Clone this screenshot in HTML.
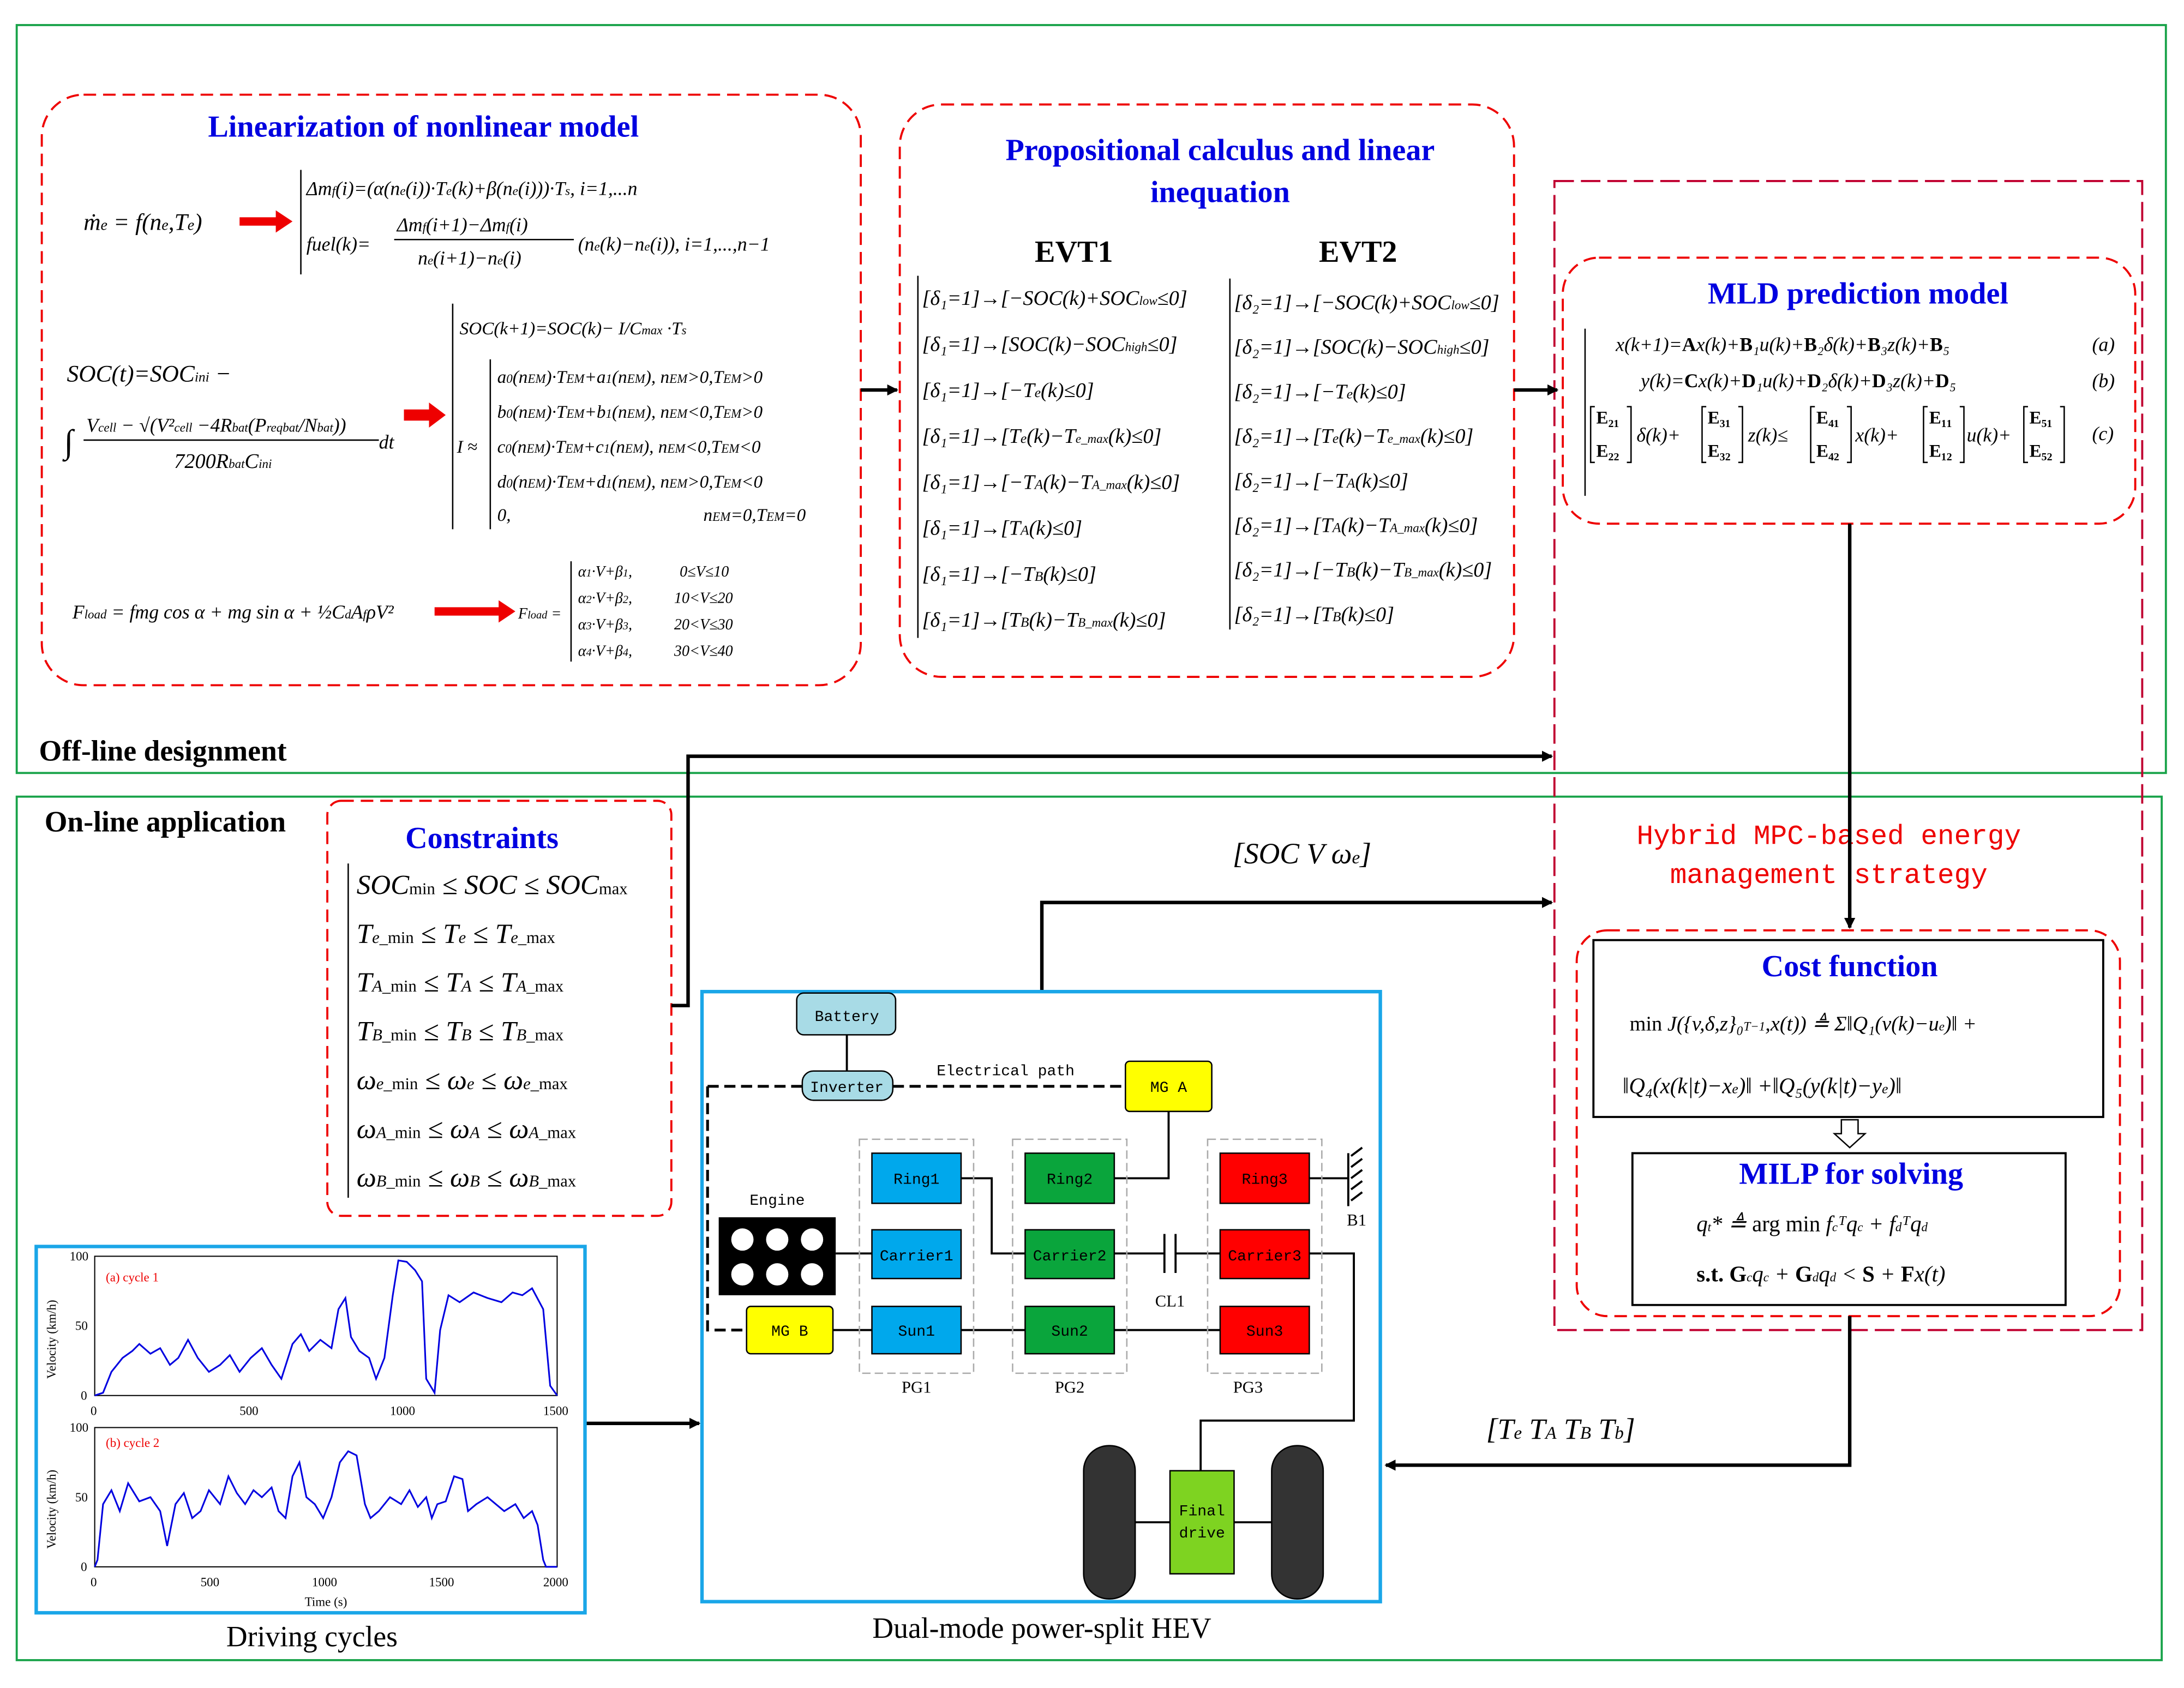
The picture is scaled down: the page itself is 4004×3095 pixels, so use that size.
<!DOCTYPE html>
<html><head><meta charset="utf-8"><style>
html,body{margin:0;padding:0;background:#fff;}
svg{display:block;}
.t{font-family:"Liberation Serif",serif;}
.f{font-family:"Liberation Serif",serif;font-style:italic;}
.b{font-family:"Liberation Serif",serif;font-weight:bold;fill:#0000e0;font-size:22px;}
.m{font-family:"Liberation Mono",monospace;}
</style></head><body>
<svg width="4004" height="3095" viewBox="0 0 1568 1212" preserveAspectRatio="none" xmlns="http://www.w3.org/2000/svg" font-size="13">
<defs>
<marker id="ah" markerWidth="8" markerHeight="8" refX="7" refY="4" orient="auto" markerUnits="userSpaceOnUse"><path d="M0,0 L8,4 L0,8z" fill="#000"/></marker>
</defs>
<rect width="1568" height="1212" fill="#fff"/>
<rect x="12" y="18" width="1543" height="537" fill="none" stroke="#19a34a" stroke-width="1.5"/>
<rect x="12" y="572" width="1540" height="620" fill="none" stroke="#19a34a" stroke-width="1.5"/>
<text x="28" y="546" class="t" font-weight="bold" font-size="21">Off-line designment</text>
<text x="32" y="597" class="t" font-weight="bold" font-size="21">On-line application</text>

<!-- box 1 -->
<rect x="30" y="68" width="588" height="424" rx="30" fill="none" stroke="#e00" stroke-width="1.5" stroke-dasharray="9,5"/>
<text x="304" y="98" class="b" text-anchor="middle">Linearization of nonlinear model</text>
<text x="60" y="165" class="f" font-size="17">ṁ<tspan font-size="11">e</tspan> = f(n<tspan font-size="11">e</tspan>,T<tspan font-size="11">e</tspan>)</text>
<path d="M172,156 h26 v-5 l12,8 l-12,8 v-5 h-26z" fill="#e00"/>
<text x="220" y="140" class="f" font-size="14">Δm<tspan font-size="9">f</tspan>(i)=(α(n<tspan font-size="9">e</tspan>(i))·T<tspan font-size="9">e</tspan>(k)+β(n<tspan font-size="9">e</tspan>(i)))·T<tspan font-size="9">s</tspan>,  i=1,...n</text>
<text x="220" y="180" class="f" font-size="14">fuel(k)=</text>
<text x="285" y="166" class="f" font-size="14">Δm<tspan font-size="9">f</tspan>(i+1)−Δm<tspan font-size="9">f</tspan>(i)</text>
<line x1="283" y1="172" x2="412" y2="172" stroke="#000"/>
<text x="300" y="190" class="f" font-size="14">n<tspan font-size="9">e</tspan>(i+1)−n<tspan font-size="9">e</tspan>(i)</text>
<text x="415" y="180" class="f" font-size="14">(n<tspan font-size="9">e</tspan>(k)−n<tspan font-size="9">e</tspan>(i)),  i=1,...,n−1</text>
<path d="M216,122 v75" stroke="#000" fill="none"/>
<text x="48" y="274" class="f" font-size="17">SOC(t)=SOC<tspan font-size="10">ini</tspan> −</text>
<text x="46" y="325" class="f" font-size="24">∫</text>
<text x="62" y="310" class="f" font-size="14">V<tspan font-size="9">cell</tspan> − √(V²<tspan font-size="9">cell</tspan> −4R<tspan font-size="9">bat</tspan>(P<tspan font-size="9">reqbat</tspan>/N<tspan font-size="9">bat</tspan>))</text>
<line x1="60" y1="316" x2="272" y2="316" stroke="#000"/>
<text x="125" y="336" class="f" font-size="15">7200R<tspan font-size="9">bat</tspan>C<tspan font-size="9">ini</tspan></text>
<text x="272" y="322" class="f" font-size="14">dt</text>
<path d="M290,294 h18 v-5 l12,9 l-12,9 v-5 h-18z" fill="#e00"/>
<text x="330" y="240" class="f">SOC(k+1)=SOC(k)−  I/C<tspan font-size="9">max</tspan> ·T<tspan font-size="9">s</tspan></text>
<text x="328" y="325" class="f">I ≈</text>
<path d="M325,218 v162" stroke="#000" fill="none"/>
<path d="M352,258 v122" stroke="#000" fill="none"/>
<text x="357" y="275" class="f">a<tspan font-size="9">0</tspan>(n<tspan font-size="9">EM</tspan>)·T<tspan font-size="9">EM</tspan>+a<tspan font-size="9">1</tspan>(n<tspan font-size="9">EM</tspan>),   n<tspan font-size="9">EM</tspan>&gt;0,T<tspan font-size="9">EM</tspan>&gt;0</text>
<text x="357" y="300" class="f">b<tspan font-size="9">0</tspan>(n<tspan font-size="9">EM</tspan>)·T<tspan font-size="9">EM</tspan>+b<tspan font-size="9">1</tspan>(n<tspan font-size="9">EM</tspan>),   n<tspan font-size="9">EM</tspan>&lt;0,T<tspan font-size="9">EM</tspan>&gt;0</text>
<text x="357" y="325" class="f">c<tspan font-size="9">0</tspan>(n<tspan font-size="9">EM</tspan>)·T<tspan font-size="9">EM</tspan>+c<tspan font-size="9">1</tspan>(n<tspan font-size="9">EM</tspan>),   n<tspan font-size="9">EM</tspan>&lt;0,T<tspan font-size="9">EM</tspan>&lt;0</text>
<text x="357" y="350" class="f">d<tspan font-size="9">0</tspan>(n<tspan font-size="9">EM</tspan>)·T<tspan font-size="9">EM</tspan>+d<tspan font-size="9">1</tspan>(n<tspan font-size="9">EM</tspan>),   n<tspan font-size="9">EM</tspan>&gt;0,T<tspan font-size="9">EM</tspan>&lt;0</text>
<text x="357" y="374" class="f">0,</text>
<text x="505" y="374" class="f">n<tspan font-size="9">EM</tspan>=0,T<tspan font-size="9">EM</tspan>=0</text>
<text x="52" y="444" class="f" font-size="14">F<tspan font-size="9">load</tspan> = fmg cos α + mg sin α + ½C<tspan font-size="9">d</tspan>A<tspan font-size="9">f</tspan>ρV²</text>
<path d="M312,436 h46 v-5 l12,8 l-12,8 v-5 h-46z" fill="#e00"/>
<text x="372" y="444" class="f" font-size="11">F<tspan font-size="8">load</tspan> =</text>
<path d="M410,403 v72" stroke="#000" fill="none"/>
<g class="f" font-size="11">
<text x="415" y="414">α<tspan font-size="8">1</tspan>·V+β<tspan font-size="8">1</tspan>,</text><text x="488" y="414">0≤V≤10</text>
<text x="415" y="433">α<tspan font-size="8">2</tspan>·V+β<tspan font-size="8">2</tspan>,</text><text x="484" y="433">10&lt;V≤20</text>
<text x="415" y="452">α<tspan font-size="8">3</tspan>·V+β<tspan font-size="8">3</tspan>,</text><text x="484" y="452">20&lt;V≤30</text>
<text x="415" y="471">α<tspan font-size="8">4</tspan>·V+β<tspan font-size="8">4</tspan>,</text><text x="484" y="471">30&lt;V≤40</text>
</g>

<!-- box 2 -->
<rect x="646" y="75" width="441" height="411" rx="30" fill="none" stroke="#e00" stroke-width="1.5" stroke-dasharray="9,5"/>
<text x="876" y="115" class="b" text-anchor="middle">Propositional calculus and linear</text>
<text x="876" y="145" class="b" text-anchor="middle">inequation</text>
<text x="771" y="188" class="t" font-size="22" font-weight="bold" text-anchor="middle">EVT1</text>
<text x="975" y="188" class="t" font-size="22" font-weight="bold" text-anchor="middle">EVT2</text>
<g class="f" font-size="15">
<text x="662" y="219">[δ₁=1]→[−SOC(k)+SOC<tspan font-size="9">low</tspan>≤0]</text>
<text x="662" y="252">[δ₁=1]→[SOC(k)−SOC<tspan font-size="9">high</tspan>≤0]</text>
<text x="662" y="285">[δ₁=1]→[−T<tspan font-size="10">e</tspan>(k)≤0]</text>
<text x="662" y="318">[δ₁=1]→[T<tspan font-size="10">e</tspan>(k)−T<tspan font-size="9">e_max</tspan>(k)≤0]</text>
<text x="662" y="351">[δ₁=1]→[−T<tspan font-size="10">A</tspan>(k)−T<tspan font-size="9">A_max</tspan>(k)≤0]</text>
<text x="662" y="384">[δ₁=1]→[T<tspan font-size="10">A</tspan>(k)≤0]</text>
<text x="662" y="417">[δ₁=1]→[−T<tspan font-size="10">B</tspan>(k)≤0]</text>
<text x="662" y="450">[δ₁=1]→[T<tspan font-size="10">B</tspan>(k)−T<tspan font-size="9">B_max</tspan>(k)≤0]</text>
<text x="886" y="222">[δ₂=1]→[−SOC(k)+SOC<tspan font-size="9">low</tspan>≤0]</text>
<text x="886" y="254">[δ₂=1]→[SOC(k)−SOC<tspan font-size="9">high</tspan>≤0]</text>
<text x="886" y="286">[δ₂=1]→[−T<tspan font-size="10">e</tspan>(k)≤0]</text>
<text x="886" y="318">[δ₂=1]→[T<tspan font-size="10">e</tspan>(k)−T<tspan font-size="9">e_max</tspan>(k)≤0]</text>
<text x="886" y="350">[δ₂=1]→[−T<tspan font-size="10">A</tspan>(k)≤0]</text>
<text x="886" y="382">[δ₂=1]→[T<tspan font-size="10">A</tspan>(k)−T<tspan font-size="9">A_max</tspan>(k)≤0]</text>
<text x="886" y="414">[δ₂=1]→[−T<tspan font-size="10">B</tspan>(k)−T<tspan font-size="9">B_max</tspan>(k)≤0]</text>
<text x="886" y="446">[δ₂=1]→[T<tspan font-size="10">B</tspan>(k)≤0]</text>
</g>
<path d="M659,198 v260 M883,200 v252" stroke="#000" fill="none"/>

<!-- big red rect -->
<rect x="1116" y="130" width="422" height="825" fill="none" stroke="#c00030" stroke-width="1.5" stroke-dasharray="14,5"/>
<rect x="1122" y="185" width="411" height="191" rx="26" fill="none" stroke="#e00" stroke-width="1.5" stroke-dasharray="9,5"/>
<text x="1334" y="218" class="b" text-anchor="middle">MLD prediction model</text>
<g class="f" font-size="14">
<text x="1160" y="252">x(k+1)=<tspan font-weight="bold" font-style="normal">A</tspan>x(k)+<tspan font-weight="bold" font-style="normal">B</tspan>₁u(k)+<tspan font-weight="bold" font-style="normal">B</tspan>₂δ(k)+<tspan font-weight="bold" font-style="normal">B</tspan>₃z(k)+<tspan font-weight="bold" font-style="normal">B</tspan>₅</text>
<text x="1502" y="252">(a)</text>
<text x="1178" y="278">y(k)=<tspan font-weight="bold" font-style="normal">C</tspan>x(k)+<tspan font-weight="bold" font-style="normal">D</tspan>₁u(k)+<tspan font-weight="bold" font-style="normal">D</tspan>₂δ(k)+<tspan font-weight="bold" font-style="normal">D</tspan>₃z(k)+<tspan font-weight="bold" font-style="normal">D</tspan>₅</text>
<text x="1502" y="278">(b)</text>
<text x="1502" y="316">(c)</text>
</g>
<g class="t" font-size="13" font-weight="bold">
<text x="1146" y="304">E₂₁</text><text x="1146" y="328">E₂₂</text>
<text x="1226" y="304">E₃₁</text><text x="1226" y="328">E₃₂</text>
<text x="1304" y="304">E₄₁</text><text x="1304" y="328">E₄₂</text>
<text x="1385" y="304">E₁₁</text><text x="1385" y="328">E₁₂</text>
<text x="1457" y="304">E₅₁</text><text x="1457" y="328">E₅₂</text>
</g>
<g stroke="#000" fill="none" stroke-width="1">
<path d="M1145,292 h-3 v40 h3 M1168,292 h3 v40 h-3"/>
<path d="M1225,292 h-3 v40 h3 M1248,292 h3 v40 h-3"/>
<path d="M1303,292 h-3 v40 h3 M1326,292 h3 v40 h-3"/>
<path d="M1384,292 h-3 v40 h3 M1407,292 h3 v40 h-3"/>
<path d="M1456,292 h-3 v40 h3 M1479,292 h3 v40 h-3"/>
</g>
<g class="f" font-size="14">
<text x="1175" y="317">δ(k)+</text><text x="1255" y="317">z(k)≤</text><text x="1332" y="317">x(k)+</text><text x="1412" y="317">u(k)+</text>
</g>
<path d="M1138,236 v120" stroke="#000" fill="none"/>

<text x="1313" y="606" class="m" font-size="20" fill="#e00" text-anchor="middle">Hybrid MPC-based energy</text>
<text x="1313" y="634" class="m" font-size="20" fill="#e00" text-anchor="middle">management  strategy</text>

<rect x="1132" y="668" width="390" height="277" rx="22" fill="none" stroke="#e00" stroke-width="1.5" stroke-dasharray="9,5"/>
<rect x="1144" y="675" width="366" height="127" fill="#fff" stroke="#000" stroke-width="1.5"/>
<text x="1328" y="701" class="b" text-anchor="middle">Cost function</text>
<text x="1170" y="740" class="f" font-size="15"><tspan font-style="normal">min</tspan> J({v,δ,z}₀<tspan font-size="9">T−1</tspan>,x(t)) ≜ Σ‖Q₁(v(k)−u<tspan font-size="9">e</tspan>)‖ +</text>
<text x="1165" y="785" class="f" font-size="16">‖Q₄(x(k|t)−x<tspan font-size="10">e</tspan>)‖ +‖Q₅(y(k|t)−y<tspan font-size="10">e</tspan>)‖</text>
<path d="M1322,804 h12 v10 h5 l-11,10 l-11,-10 h5z" fill="#fff" stroke="#000"/>
<rect x="1172" y="828" width="311" height="109" fill="#fff" stroke="#000" stroke-width="1.5"/>
<text x="1329" y="850" class="b" text-anchor="middle">MILP for solving</text>
<text x="1218" y="884" class="f" font-size="16">q<tspan font-size="9">t</tspan>* ≜ <tspan font-style="normal">arg min</tspan> f<tspan font-size="9">c</tspan>ᵀq<tspan font-size="9">c</tspan> + f<tspan font-size="9">d</tspan>ᵀq<tspan font-size="9">d</tspan></text>
<text x="1218" y="920" class="f" font-size="16"><tspan font-weight="bold" font-style="normal">s.t.  G</tspan><tspan font-size="9">c</tspan>q<tspan font-size="9">c</tspan> + <tspan font-weight="bold" font-style="normal">G</tspan><tspan font-size="9">d</tspan>q<tspan font-size="9">d</tspan> &lt; <tspan font-weight="bold" font-style="normal">S</tspan> + <tspan font-weight="bold" font-style="normal">F</tspan>x(t)</text>

<!-- constraints -->
<rect x="235" y="575" width="247" height="298" rx="10" fill="none" stroke="#e00" stroke-width="1.5" stroke-dasharray="9,5"/>
<text x="346" y="609" class="b" text-anchor="middle">Constraints</text>
<path d="M250,620 v240" stroke="#000" fill="none"/>
<g class="f" font-size="20">
<text x="256" y="642">SOC<tspan font-size="12" font-style="normal">min</tspan> ≤ SOC ≤ SOC<tspan font-size="12" font-style="normal">max</tspan></text>
<text x="256" y="677">T<tspan font-size="12">e</tspan><tspan font-size="12" font-style="normal">_min</tspan> ≤ T<tspan font-size="12">e</tspan> ≤ T<tspan font-size="12">e</tspan><tspan font-size="12" font-style="normal">_max</tspan></text>
<text x="256" y="712">T<tspan font-size="12">A</tspan><tspan font-size="12" font-style="normal">_min</tspan> ≤ T<tspan font-size="12">A</tspan> ≤ T<tspan font-size="12">A</tspan><tspan font-size="12" font-style="normal">_max</tspan></text>
<text x="256" y="747">T<tspan font-size="12">B</tspan><tspan font-size="12" font-style="normal">_min</tspan> ≤ T<tspan font-size="12">B</tspan> ≤ T<tspan font-size="12">B</tspan><tspan font-size="12" font-style="normal">_max</tspan></text>
<text x="256" y="782">ω<tspan font-size="12">e</tspan><tspan font-size="12" font-style="normal">_min</tspan> ≤ ω<tspan font-size="12">e</tspan> ≤ ω<tspan font-size="12">e</tspan><tspan font-size="12" font-style="normal">_max</tspan></text>
<text x="256" y="817">ω<tspan font-size="12">A</tspan><tspan font-size="12" font-style="normal">_min</tspan> ≤ ω<tspan font-size="12">A</tspan> ≤ ω<tspan font-size="12">A</tspan><tspan font-size="12" font-style="normal">_max</tspan></text>
<text x="256" y="852">ω<tspan font-size="12">B</tspan><tspan font-size="12" font-style="normal">_min</tspan> ≤ ω<tspan font-size="12">B</tspan> ≤ ω<tspan font-size="12">B</tspan><tspan font-size="12" font-style="normal">_max</tspan></text>
</g>

<!-- arrows -->
<g stroke="#000" stroke-width="2.5" fill="none">
<path d="M618,280 H644" marker-end="url(#ah)"/>
<path d="M1087,280 H1118" marker-end="url(#ah)"/>
<path d="M1328,376 V666" marker-end="url(#ah)"/>
<path d="M482,722 H494 V543 H1114" marker-end="url(#ah)"/>
<path d="M748,712 V648 H1114" marker-end="url(#ah)"/>
<path d="M1328,945 V1052 H995" marker-end="url(#ah)"/>
<path d="M420,1022 H502" marker-end="url(#ah)"/>
</g>
<text x="885" y="620" class="f" font-size="21">[SOC   V   ω<tspan font-size="13">e</tspan>]</text>
<text x="1067" y="1033" class="f" font-size="21">[T<tspan font-size="13">e</tspan>   T<tspan font-size="13">A</tspan>   T<tspan font-size="13">B</tspan>   T<tspan font-size="13">b</tspan>]</text>

<!-- HEV -->
<rect x="504" y="712" width="487" height="438" fill="none" stroke="#1aa6e8" stroke-width="2.5"/>
<text x="748" y="1176" class="t" font-size="21" text-anchor="middle">Dual-mode power-split HEV</text>
<g stroke="#000" stroke-width="1.5" fill="none">
<path d="M608,743 V769"/>
<path d="M508,780 H576 M641,780 H808" stroke-dasharray="8,4" stroke-width="2"/>
<path d="M508,780 V955 H536" stroke-dasharray="8,4" stroke-width="2"/>
<path d="M839,798 V846 H800"/>
<path d="M690,846 H712 V900 H736"/>
<path d="M598,955 H626 M690,955 H736 M800,955 H876"/>
<path d="M600,900 H626 M800,900 H836 M844,900 H876"/>
<path d="M836,886 V914 M844,886 V914"/>
<path d="M940,846 H968 M968,828 V866"/>
<path d="M940,900 H972 V1020 H862 V1056"/>
<path d="M815,1093 H840 M886,1093 H913"/>
</g>
<path d="M970,830 l8,-6 M970,838 l8,-6 M970,846 l8,-6 M970,854 l8,-6 M970,862 l8,-6" stroke="#000" stroke-width="1.5"/>
<g fill="none" stroke="#aaa" stroke-dasharray="6,3">
<rect x="617" y="818" width="82" height="168"/><rect x="727" y="818" width="82" height="168"/><rect x="867" y="818" width="82" height="168"/>
</g>
<g class="m" font-size="11">
<rect x="572" y="713" width="71" height="30" rx="5" fill="#a8dbe6" stroke="#000"/>
<text x="608" y="733" text-anchor="middle">Battery</text>
<rect x="576" y="769" width="65" height="21" rx="8" fill="#a8dbe6" stroke="#000"/>
<text x="608" y="784" text-anchor="middle">Inverter</text>
<text x="722" y="772" text-anchor="middle">Electrical path</text>
<rect x="808" y="762" width="62" height="36" rx="3" fill="#ffff00" stroke="#000"/>
<text x="839" y="784" text-anchor="middle">MG A</text>
<text x="558" y="865" text-anchor="middle">Engine</text>
</g>
<rect x="516" y="874" width="84" height="56" fill="#000"/>
<g fill="#fff"><circle cx="533" cy="890" r="8"/><circle cx="558" cy="890" r="8"/><circle cx="583" cy="890" r="8"/><circle cx="533" cy="915" r="8"/><circle cx="558" cy="915" r="8"/><circle cx="583" cy="915" r="8"/></g>
<rect x="536" y="938" width="62" height="34" rx="3" fill="#ffff00" stroke="#000"/>
<text x="567" y="959" class="m" font-size="11" text-anchor="middle">MG B</text>
<g stroke="#000">
<rect x="626" y="828" width="64" height="36" fill="#00a8ec"/><rect x="626" y="883" width="64" height="35" fill="#00a8ec"/><rect x="626" y="938" width="64" height="34" fill="#00a8ec"/>
<rect x="736" y="828" width="64" height="36" fill="#0aa53c"/><rect x="736" y="883" width="64" height="35" fill="#0aa53c"/><rect x="736" y="938" width="64" height="34" fill="#0aa53c"/>
<rect x="876" y="828" width="64" height="36" fill="#f00"/><rect x="876" y="883" width="64" height="35" fill="#f00"/><rect x="876" y="938" width="64" height="34" fill="#f00"/>
</g>
<g class="m" font-size="11" text-anchor="middle">
<text x="658" y="850">Ring1</text><text x="658" y="905">Carrier1</text><text x="658" y="959">Sun1</text>
<text x="768" y="850">Ring2</text><text x="768" y="905">Carrier2</text><text x="768" y="959">Sun2</text>
<text x="908" y="850">Ring3</text><text x="908" y="905">Carrier3</text><text x="908" y="959">Sun3</text>
</g>
<g class="t" font-size="12" text-anchor="middle"><text x="658" y="1000">PG1</text><text x="768" y="1000">PG2</text><text x="896" y="1000">PG3</text><text x="840" y="938">CL1</text><text x="974" y="880">B1</text></g>
<rect x="778" y="1038" width="37" height="110" rx="18" fill="#333" stroke="#000"/>
<rect x="913" y="1038" width="37" height="110" rx="18" fill="#333" stroke="#000"/>
<rect x="840" y="1056" width="46" height="74" fill="#7ed321" stroke="#000"/>
<text x="863" y="1088" class="m" font-size="11" text-anchor="middle">Final</text>
<text x="863" y="1104" class="m" font-size="11" text-anchor="middle">drive</text>

<!-- driving cycles -->
<rect x="26" y="895" width="394" height="263" fill="none" stroke="#1aa6e8" stroke-width="2.5"/>
<text x="224" y="1182" class="t" font-size="21" text-anchor="middle">Driving cycles</text>
<g stroke="#000" fill="none" stroke-width="0.8"><rect x="68" y="902" width="332" height="100"/><rect x="68" y="1025" width="332" height="100"/></g>
<g class="t" font-size="9">
<text x="50" y="905">100</text><text x="54" y="955">50</text><text x="58" y="1005">0</text>
<text x="65" y="1016">0</text><text x="172" y="1016">500</text><text x="280" y="1016">1000</text><text x="390" y="1016">1500</text>
<text x="50" y="1028">100</text><text x="54" y="1078">50</text><text x="58" y="1128">0</text>
<text x="65" y="1139">0</text><text x="144" y="1139">500</text><text x="224" y="1139">1000</text><text x="308" y="1139">1500</text><text x="390" y="1139">2000</text>
<text x="234" y="1153" text-anchor="middle">Time (s)</text>
<text x="76" y="920" fill="#e00">(a) cycle 1</text><text x="76" y="1039" fill="#e00">(b) cycle 2</text>
<text x="40" y="990" transform="rotate(-90 40 990)">Velocity (km/h)</text>
<text x="40" y="1112" transform="rotate(-90 40 1112)">Velocity (km/h)</text>
</g>
<polyline fill="none" stroke="#0000e0" stroke-width="1.2" points="68,1002 74,1000 80,985 88,975 95,970 100,965 108,972 115,968 122,980 128,975 135,962 142,975 150,985 158,980 165,973 172,985 180,975 188,968 195,980 202,990 210,965 216,958 222,970 230,962 238,968 243,940 248,932 252,960 258,970 265,975 270,990 276,975 282,930 286,905 292,906 298,912 303,920 306,990 312,1000 316,955 322,930 330,935 340,928 350,932 360,935 368,928 375,930 382,925 390,940 395,995 400,1002"/>
<polyline fill="none" stroke="#0000e0" stroke-width="1.2" points="68,1125 70,1120 74,1080 80,1070 86,1085 92,1065 100,1078 108,1075 115,1085 120,1110 126,1080 132,1072 138,1090 144,1085 150,1070 158,1080 164,1060 170,1072 176,1080 182,1070 188,1075 195,1068 200,1085 205,1090 210,1060 215,1050 220,1075 226,1080 232,1090 238,1075 244,1050 250,1042 256,1045 262,1080 266,1090 272,1085 280,1075 288,1080 294,1070 300,1082 306,1075 310,1090 314,1080 320,1078 326,1060 332,1062 336,1085 342,1080 350,1075 356,1080 362,1085 370,1080 376,1090 382,1085 386,1095 390,1120 392,1125 400,1125"/>
</svg>
</body></html>
